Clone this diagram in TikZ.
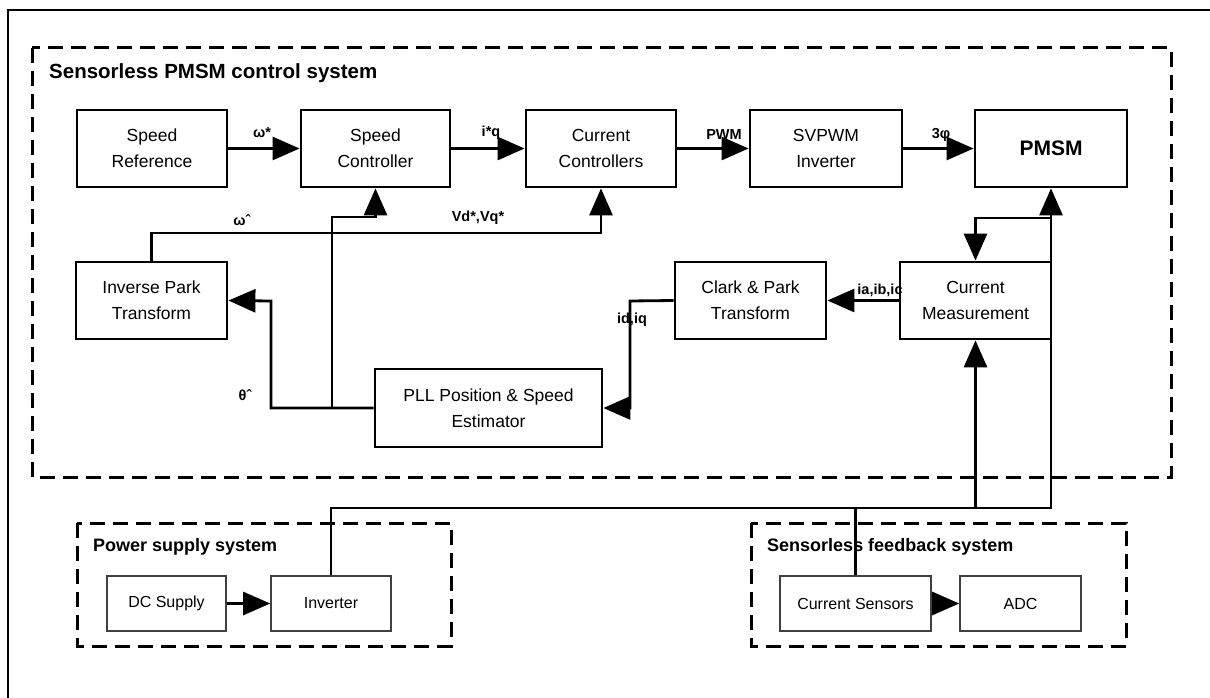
\documentclass[tikz,border=0pt]{standalone}
\usepackage{fontspec}
\setmainfont{Liberation Sans}
\usetikzlibrary{arrows.meta,calc}
\begin{document}
\begin{tikzpicture}[x=1pt,y=-1pt,
  box/.style={draw, line width=2.8pt, minimum width=#1pt, minimum height=77pt, align=center, inner sep=0pt, font=\fontsize{17.5}{26}\selectfont},
  sbox/.style={draw=black!75, line width=1.6pt, minimum width=#1pt, minimum height=55pt, inner sep=0pt, font=\fontsize{16}{18}\selectfont},
  grp/.style={draw, line width=3pt, dash pattern=on 15pt off 8pt},
  wire/.style={line width=2.8pt, line join=miter},
  arr/.style={wire, -{Triangle[length=27pt,width=23pt]}},
  lab/.style={font=\bfseries\fontsize{14.5}{16}\selectfont, inner sep=0pt},
  gtitle/.style={font=\bfseries\fontsize{18}{20}\selectfont, anchor=west, inner sep=0pt}
]
\useasboundingbox (0,0) rectangle (1210,698);
\begin{scope}
\clip (0,0) rectangle (1210,698);
\draw[line width=2pt] (8,10) rectangle (1218,708);
\end{scope}

% group frames
\draw[grp] (32,48) rectangle (1171,477);
\draw[grp] (77,523) rectangle (451,646);
\draw[grp] (751,523) rectangle (1126,646);

\node[gtitle, font=\bfseries\fontsize{20.5}{22}\selectfont] (t1) at (49,73) {Sensorless PMSM control system};
\node[gtitle] (t2) at (93,547) {Power supply system};
\node[gtitle] (t3) at (767,547) {Sensorless feedback system};

% top row
\node[box=150] (sref) at (152,148.5) {Speed\\Reference};
\node[box=149] (sctrl) at (375.5,148.5) {Speed\\Controller};
\node[box=150] (cctrl) at (601,148.5) {Current\\Controllers};
\node[box=152] (svpwm) at (826,148.5) {SVPWM\\Inverter};
\node[box=152, font=\bfseries\fontsize{21}{24}\selectfont] (pmsm) at (1051,148.5) {PMSM};

% middle row
\node[box=151] (invpark) at (151.5,300.5) {Inverse Park\\Transform};
\node[box=151] (clark) at (750.5,300.5) {Clark \& Park\\Transform};
\node[box=151] (cmeas) at (975.5,300.5) {Current\\Measurement};
\node[box=227, minimum height=78pt] (pll) at (488.5,408) {PLL Position \& Speed\\Estimator};

% bottom boxes
\node[sbox=119] (dc) at (166.5,603.5) {DC Supply};
\node[sbox=120] (inv) at (331,603.5) {Inverter};
\node[sbox=151] (csens) at (855.5,603.5) {Current Sensors};
\node[sbox=121] (adc) at (1020.5,603.5) {ADC};

% coordinates
\coordinate (thk) at (271,301);
\coordinate (wj) at (332,408);
\coordinate (wk) at (332,217);
\coordinate (vk) at (151.5,233);
\coordinate (ik) at (630,301);
\coordinate (bl) at (331,508);
\coordinate (mk) at (1051,218);
\coordinate (cb) at (975.5,508);
\coordinate (sb) at (855.5,508);

% connectors
\draw[arr] (sref) -- (sctrl);
\draw[arr] (sctrl) -- (cctrl);
\draw[arr] (cctrl) -- (svpwm);
\draw[arr] (svpwm) -- (pmsm);
\draw[arr] (pll.west) -| (thk) -- (invpark.east);
\draw[arr] (wj) -- (wk) -| (sctrl.south);
\draw[arr] (invpark.north) -- (vk) -| (cctrl.south);
\draw[arr] (cmeas.west) -- (clark.east);
\draw[arr] (clark.west) -- (ik) |- (pll.east);
\draw[arr] (inv.north) -- (bl) -| (pmsm.south);
\draw[arr] (mk) -| (cmeas.north);
\draw[arr] (cb) -- (cmeas.south);
\draw[wire] (csens.north) -- (sb);
\draw[arr] (dc) -- (inv);
\draw[arr] (csens) -- (adc);

% labels
\node[lab] (lw) at (262,133) {ω*};
\node[lab] (liq) at (491,133) {i*q};
\node[lab] (lpwm) at (724,135) {PWM};
\node[lab] (l3p) at (941,135) {3φ};
\node[lab] (lwh) at (242,220) {ωˆ};
\node[lab] (lv) at (478,218) {Vd*,Vq*};
\node[lab] (lth) at (245,395) {θˆ};
\node[lab] (labc) at (880,290) {ia,ib,ic};
\node[lab] (lid) at (632,320) {id,iq};
\end{tikzpicture}
\end{document}
